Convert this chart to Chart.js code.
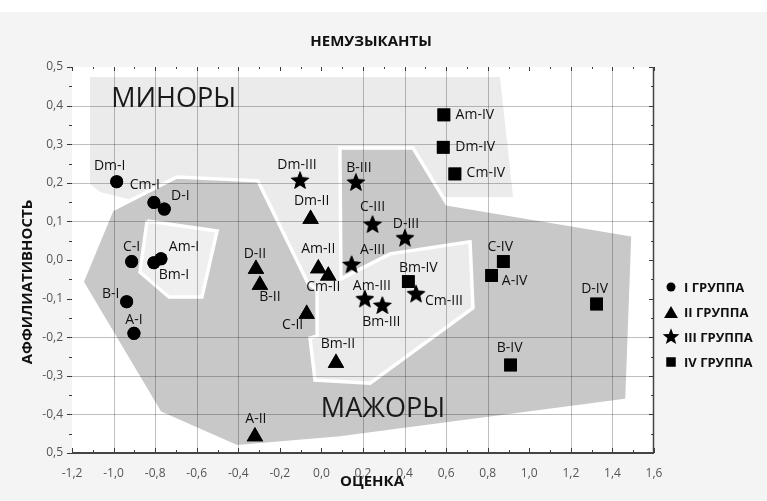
<!DOCTYPE html>
<html>
<head>
<meta charset="utf-8">
<script src="https://cdn.jsdelivr.net/npm/chart.js@4.4.1/dist/chart.umd.min.js"></script>
<style>
html,body{margin:0;padding:0;background:#fff;}
#wrap{width:767px;height:501px;position:relative;}
</style>
</head>
<body>
<div id="wrap"><canvas id="c" width="767" height="501"></canvas></div>
<script>
// ---------- text ----------
const chartTitle = 'НЕМУЗЫКАНТЫ';
const xTitle = 'ОЦЕНКА';
const yTitle = 'АФФИЛИАТИВНОСТЬ';
const groupNames = ['I ГРУППА', 'II ГРУППА', 'III ГРУППА', 'IV ГРУППА'];
const regionNames = ['МИНОРЫ', 'МАЖОРЫ'];

// ---------- axes ----------
const X_MIN = -1.2, X_MAX = 1.6, X_STEP = 0.2;
const Y_MIN = -0.5, Y_MAX = 0.5, Y_STEP = 0.1;
const xTickLabels = ['-1,2','-1,0','-0,8','-0,6','-0,4','-0,2','0,0','0,2','0,4','0,6','0,8','1,0','1,2','1,4','1,6'];
const yTickLabels = ['0,5','0,4','0,3','0,2','0,1','0,0','-0,1','-0,2','-0,3','-0,4','0,5']; // top to bottom, as printed

// ---------- series ----------
const g1Labels = ['Dm-I','Cm-I','D-I','C-I','Am-I','Bm-I','B-I','A-I'];
const g1X = [-0.985,-0.806,-0.756,-0.913,-0.772,-0.806,-0.937,-0.902];
const g1Y = [0.203,0.149,0.132,-0.004,0.003,-0.007,-0.108,-0.190];

const g2Labels = ['D-II','B-II','C-II','Dm-II','Am-II','Cm-II','Bm-II','A-II'];
const g2X = [-0.315,-0.296,-0.071,-0.052,-0.015,0.033,0.070,-0.320];
const g2Y = [-0.023,-0.065,-0.140,0.106,-0.022,-0.041,-0.267,-0.457];

const g3Labels = ['Dm-III','B-III','C-III','D-III','A-III','Am-III','Bm-III','Cm-III'];
const g3X = [-0.103,0.166,0.246,0.402,0.145,0.209,0.293,0.455];
const g3Y = [0.205,0.200,0.091,0.056,-0.013,-0.102,-0.119,-0.089];

const g4Labels = ['Am-IV','Dm-IV','Cm-IV','Bm-IV','C-IV','A-IV','D-IV','B-IV'];
const g4X = [0.589,0.586,0.642,0.418,0.875,0.819,1.324,0.910];
const g4Y = [0.376,0.292,0.223,-0.056,-0.004,-0.040,-0.114,-0.272];

// ---------- shaded regions (data units) ----------
const regionMinor = [[-1.113,0.474],[0.859,0.474],[0.922,0.163],[0.570,0.163],[-0.344,0.078],[-1.065,0.176],[-1.113,0.197]];
const bayEdge = [[-0.305,0.205],[-0.065,-0.060],[-0.021,-0.078],[-0.021,-0.197],[-0.055,-0.202],[-0.031,-0.311],[0.234,-0.319],[0.729,-0.124],[0.715,0.047],[0.330,0.016],[0.094,-0.049],[0.089,0.290]];
const majorStart = [[-1.008,0.130],[-0.695,0.215]];
const majorEnd = [[0.441,0.290],[0.604,0.145],[1.499,0.065],[1.470,-0.363],[0.089,-0.461],[-0.406,-0.484],[-0.777,-0.396],[-1.152,-0.057]];
const regionMajor = majorStart.concat(bayEdge, majorEnd);
const regionHole = [[-0.839,0.101],[-0.502,0.075],[-0.575,-0.096],[-0.733,-0.096],[-0.873,-0.031]];
const regionLabelAt = [[-0.711,0.416],[0.296,-0.386]];

// ---------- label placement (pixel offsets of text centre from the mark) ----------
const g1Off = [[-7,-16],[-9,-17],[16,-13],[0,-15],[23,-12],[20,12],[-16,-8],[0,-13]];
const g2Off = [[-1,-15],[10,12],[-14,11],[1,-18],[0,-19],[-5,11],[2,-19],[1,-17]];
const g3Off = [[-3,-16],[3,-15],[0,-18],[1,-14],[21,-15],[7,-13],[-1,16],[28,7]];
const g4Off = [[31,0],[32,0],[31,-1],[10,-14],[-3,-15],[23,6],[-2,-15],[-1,-17]];

// ---------- helpers ----------
function pts(xs, ys){ return xs.map((x,i)=>({x:x, y:ys[i]})); }
function poly(arr){ const p = arr.map(a=>({x:a[0], y:a[1]})); p.push({x:arr[0][0], y:arr[0][1]}); return p; }
function starPath(g, cx, cy, R, r){
  g.beginPath();
  for (let i=0;i<10;i++){
    const rad = (i%2) ? r : R;
    const a = -Math.PI/2 + i*Math.PI/5;
    const px = cx + rad*Math.cos(a), py = cy + rad*Math.sin(a);
    if (i) g.lineTo(px,py); else g.moveTo(px,py);
  }
  g.closePath();
}
function makeStar(R, r){
  const s = Math.ceil(R*2)+2;
  const c = document.createElement('canvas'); c.width = s; c.height = s;
  const g = c.getContext('2d'); g.fillStyle = '#000';
  starPath(g, s/2, s/2, R, r); g.fill();
  return c;
}
const starImg = makeStar(9.8, 4.2);

Chart.defaults.font.family = '"Open Sans", "DejaVu Sans", sans-serif';

const groups = [
  {labels:g1Labels, off:g1Off},
  {labels:g2Labels, off:g2Off},
  {labels:g3Labels, off:g3Off},
  {labels:g4Labels, off:g4Off}
];

// grid positions (in tick steps from the axis minimum / top) left without a grid line
const skipXIdx = [0, 5, 6, 11, 14];
const skipYIdx = [0, 5, 6, 10];

function polyDs(data, fillCol, stroke, order){
  return {
    type:'line', data: poly(data), showLine:true, fill:'shape',
    backgroundColor: fillCol, borderColor: stroke ? '#ffffff' : 'rgba(0,0,0,0)',
    borderWidth: stroke ? 3.5 : 0, pointRadius:0, pointHoverRadius:0, pointHitRadius:0,
    tension:0, order: order
  };
}
function markDs(i, data, style, radius){
  return {
    label: groupNames[i], data: data, pointStyle: style, pointRadius: radius, pointHoverRadius: radius,
    backgroundColor:'#000', borderColor:'#000', borderWidth:0, order:0
  };
}

const bgPlugin = {
  id:'bg',
  beforeDraw(chart){
    const {ctx, chartArea:a, width, height} = chart;
    ctx.save();
    ctx.fillStyle = '#ffffff'; ctx.fillRect(0,0,width,height);
    ctx.fillStyle = '#f4f4f4'; ctx.fillRect(0,12,width,height-12);
    ctx.fillStyle = '#ffffff'; ctx.fillRect(a.left, a.top, a.right-a.left, a.bottom-a.top);
    ctx.restore();
  }
};

const overlayPlugin = {
  id:'overlay',
  afterDraw(chart){
    const ctx = chart.ctx, a = chart.chartArea;
    const xs = chart.scales.x, ys = chart.scales.y;
    ctx.save();
    // grid lines over the shaded regions
    ctx.strokeStyle = 'rgba(0,0,0,0.25)';
    ctx.lineWidth = 1;
    ctx.beginPath();
    const nMajX = Math.round((X_MAX - X_MIN)/X_STEP);
    for (let i=0;i<=nMajX;i++){
      if (skipXIdx.indexOf(i) >= 0) continue;
      const px = Math.round(xs.getPixelForValue(X_MIN + i*X_STEP)) + 0.5;
      ctx.moveTo(px, a.top); ctx.lineTo(px, a.bottom);
    }
    const nMajY = Math.round((Y_MAX - Y_MIN)/Y_STEP);
    for (let i=0;i<=nMajY;i++){
      if (skipYIdx.indexOf(nMajY - i) >= 0) continue;
      const py = Math.round(ys.getPixelForValue(Y_MIN + i*Y_STEP)) + 0.5;
      ctx.moveTo(a.left, py); ctx.lineTo(a.right, py);
    }
    ctx.stroke();
    ctx.restore();

    // marks back on top of the grid, drawn by their own point elements
    try {
      for (let gi=0; gi<groups.length; gi++){
        chart.getDatasetMeta(gi).data.forEach(el => el.draw(ctx, a));
      }
    } catch (e) {}

    ctx.save();
    // frame & tick marks
    ctx.strokeStyle = '#3a3a3a'; ctx.lineWidth = 1;
    ctx.beginPath();
    const nx = Math.round((X_MAX-X_MIN)/(X_STEP/2));
    for (let i=0;i<=nx;i++){
      const px = Math.round(xs.getPixelForValue(X_MIN + i*X_STEP/2)) + 0.5;
      const L = (i%2) ? 3 : 5;
      ctx.moveTo(px, a.bottom); ctx.lineTo(px, a.bottom-L);
      ctx.moveTo(px, a.top); ctx.lineTo(px, a.top+L-1);
    }
    const ny = Math.round((Y_MAX-Y_MIN)/(Y_STEP/2));
    for (let i=0;i<=ny;i++){
      const py = Math.round(ys.getPixelForValue(Y_MIN + i*Y_STEP/2)) + 0.5;
      const L = (i%2) ? 3 : 5;
      ctx.moveTo(a.right, py); ctx.lineTo(a.right-L, py);
      ctx.moveTo(a.left, py); ctx.lineTo(a.left-L, py);
    }
    ctx.stroke();
    ctx.lineWidth = 2; ctx.strokeStyle = '#444';
    ctx.beginPath(); ctx.moveTo(a.left, a.bottom); ctx.lineTo(a.right, a.bottom); ctx.stroke();
    ctx.lineWidth = 1.5;
    ctx.beginPath(); ctx.moveTo(a.right-0.5, a.top); ctx.lineTo(a.right-0.5, a.bottom); ctx.stroke();

    // region labels
    ctx.fillStyle = '#1a1a1a';
    ctx.font = '27px "Open Sans", sans-serif';
    ctx.textAlign = 'center'; ctx.textBaseline = 'middle';
    regionNames.forEach((t,i) => {
      ctx.fillText(t, xs.getPixelForValue(regionLabelAt[i][0]), ys.getPixelForValue(regionLabelAt[i][1]));
    });

    // point labels
    ctx.fillStyle = '#111';
    ctx.font = '14px "Open Sans", sans-serif';
    groups.forEach((g, gi) => {
      const meta = chart.getDatasetMeta(gi);
      meta.data.forEach((el, i) => {
        ctx.fillText(g.labels[i], el.x + g.off[i][0], el.y + g.off[i][1]);
      });
    });

    // titles
    ctx.fillStyle = '#111';
    ctx.font = 'bold 15px "Open Sans", sans-serif';
    ctx.fillText(chartTitle, 371, 42);
    ctx.fillText(xTitle, 372, 482);
    ctx.save(); ctx.translate(28, 282); ctx.rotate(-Math.PI/2); ctx.fillText(yTitle, 0, 0); ctx.restore();

    // legend
    const lx = a.right + 17, tx = a.right + 30;
    ctx.font = 'bold 13px "Open Sans", sans-serif';
    ctx.textAlign = 'left';
    groupNames.forEach((t, i) => {
      const ly = 287 + i*25;
      ctx.fillStyle = '#000';
      ctx.beginPath();
      if (i === 0){ ctx.arc(lx, ly, 4.5, 0, Math.PI*2); ctx.fill(); }
      else if (i === 1){ const r = 8; ctx.moveTo(lx, ly - r*0.75); ctx.lineTo(lx + r*0.866, ly + r*0.75); ctx.lineTo(lx - r*0.866, ly + r*0.75); ctx.closePath(); ctx.fill(); }
      else if (i === 2){ starPath(ctx, lx, ly, 8.8, 3.7); ctx.fill(); }
      else { ctx.fillRect(lx-4.75, ly-4.75, 9.5, 9.5); }
      ctx.fillStyle = '#111';
      ctx.fillText(t, tx, ly + 1);
    });
    ctx.restore();
  }
};

new Chart(document.getElementById('c'), {
  type:'scatter',
  data:{
    datasets:[
      markDs(0, pts(g1X,g1Y), 'circle', 6.5),
      markDs(1, pts(g2X,g2Y), 'triangle', 9.5),
      markDs(2, pts(g3X,g3Y), starImg, 9.5),
      markDs(3, pts(g4X,g4Y), 'rect', 9),
      polyDs(regionMinor, '#ebebeb', false, 10),
      polyDs(bayEdge, '#ebebeb', false, 9),
      polyDs(regionMajor, '#c8c8c8', true, 8),
      polyDs(regionHole, '#efefef', true, 7)
    ]
  },
  options:{
    responsive:false, animation:false, devicePixelRatio:1,
    layout:{ padding:{ top:67, right:113, bottom:0, left:0 } },
    plugins:{ legend:{display:false}, tooltip:{enabled:false}, title:{display:false} },
    scales:{
      x:{
        type:'linear', min:X_MIN, max:X_MAX,
        afterFit:(s)=>{ s.height = 48; },
        border:{display:false},
        grid:{ display:false, drawTicks:false },
        ticks:{ stepSize:X_STEP, autoSkip:false, maxRotation:0, padding:13, color:'#555', font:{size:12},
          callback:(v)=> xTickLabels[Math.round((v - X_MIN)/X_STEP)] }
      },
      y:{
        type:'linear', min:Y_MIN, max:Y_MAX,
        afterFit:(s)=>{ s.width = 72; },
        border:{display:false},
        grid:{ display:false, drawTicks:false },
        ticks:{ stepSize:Y_STEP, autoSkip:false, padding:9, color:'#555', font:{size:12},
          callback:(v)=> yTickLabels[Math.round((Y_MAX - v)/Y_STEP)] }
      }
    }
  },
  plugins:[bgPlugin, overlayPlugin]
});
</script>
</body>
</html>
